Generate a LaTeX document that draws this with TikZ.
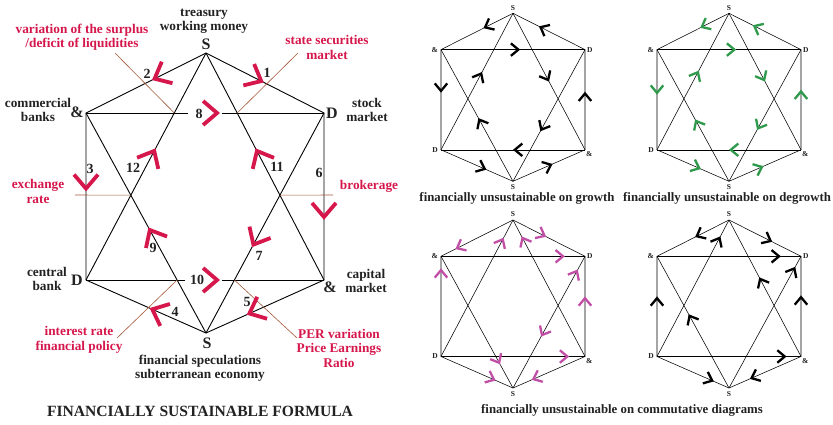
\documentclass[tikz,border=0pt]{standalone}
\usepackage{fontspec}
\setmainfont{Liberation Serif}
\usetikzlibrary{arrows.meta,decorations.markings,calc,positioning}
\definecolor{crimsonred}{HTML}{D6174C}
\definecolor{leaderbrown}{HTML}{A4583A}
\definecolor{growgreen}{HTML}{2F9A4B}
\definecolor{commpink}{HTML}{C24FA6}
\definecolor{inkgray}{HTML}{222222}
\tikzset{
  every node/.append style={align=center},
  edge/.style={draw=black, line width=0.9pt},
  minedge/.style={draw=black, line width=0.55pt},
  leader/.style={draw=leaderbrown, line width=0.6pt},
  bigmark/.style={postaction={decorate}, decoration={markings, mark=at position #1 with {\arrow[crimsonred]{Straight Barb[length=14pt,width=24pt,line width=3.8pt]}}}},
  minmark/.style={postaction={decorate}, decoration={markings, mark=at position #1 with {\arrow{Straight Barb[length=7.5pt,width=12.5pt,line width=2.3pt]}}}},
  lbl/.style={font=\bfseries\fontsize{13.3}{14.5}\selectfont, text=inkgray, inner sep=0pt},
  redlbl/.style={lbl, text=crimsonred},
  num/.style={font=\bfseries\fontsize{14}{15}\selectfont, text=inkgray, inner sep=0pt},
  vtx/.style={font=\bfseries\fontsize{16}{16}\selectfont, text=inkgray, inner sep=0pt},
  minvtx/.style={font=\bfseries\fontsize{7.5}{8}\selectfont, text=inkgray, inner sep=0pt},
  caption/.style={font=\bfseries\fontsize{12.8}{14}\selectfont, text=inkgray, inner sep=0pt},
}
% small hexagon with star: prefix, centre x, top y
\newcommand{\hexstar}[3]{%
  \coordinate (#1T) at (#2,#3);
  \coordinate (#1UL) at ($(#1T)+(-72,36.3)$);
  \coordinate (#1UR) at ($(#1T)+(72,36.3)$);
  \coordinate (#1LL) at ($(#1T)+(-72,136.5)$);
  \coordinate (#1LR) at ($(#1T)+(72,136.5)$);
  \coordinate (#1B) at ($(#1T)+(0,168)$);
  \draw[minedge] (#1T) -- (#1UL) -- (#1LL) -- (#1B) -- (#1LR) -- (#1UR) -- cycle;
  \draw[minedge] (#1UL) -- (#1UR);
  \draw[minedge] (#1LL) -- (#1LR);
  \draw[minedge] (#1T) -- (#1LL);
  \draw[minedge] (#1T) -- (#1LR);
  \draw[minedge] (#1B) -- (#1UL);
  \draw[minedge] (#1B) -- (#1UR);
  \node[minvtx, above=3pt of #1T] (#1sT) {S};
  \node[minvtx, left=3pt of #1UL] (#1sUL) {\&};
  \node[minvtx, right=2pt of #1UR] (#1sUR) {D};
  \node[minvtx, left=3pt of #1LL] (#1sLL) {D};
  \node[minvtx, below right=2pt and 1pt of #1LR] (#1sLR) {\&};
  \node[minvtx, below=3pt of #1B] (#1sB) {S};
}

\begin{document}
\begin{tikzpicture}[x=1pt, y=-1pt, >=Latex]
  \useasboundingbox[fill=white] (0,0) rectangle (833,424);

  % main figure
  \coordinate (T) at (206,53);
  \coordinate (UL) at (86,113);
  \coordinate (UR) at (324,113);
  \coordinate (LL) at (86,280);
  \coordinate (LR) at (324,280);
  \coordinate (B) at (206,333);
  \coordinate (g8a) at (188,113);
  \coordinate (g8b) at (222,113);
  \coordinate (g10a) at (185,280);
  \coordinate (g10b) at (222,280);

  \draw[edge] (T) -- (UL) -- (LL) -- (B) -- (LR) -- (UR) -- cycle;
  \draw[edge] (T) -- (LL);
  \draw[edge] (T) -- (LR);
  \draw[edge] (B) -- (UL);
  \draw[edge] (B) -- (UR);
  \draw[edge] (UL) -- (g8a);
  \draw[edge] (g8b) -- (UR);
  \draw[edge] (LL) -- (g10a);
  \draw[edge] (g10b) -- (LR);

  % leader lines
  \coordinate (xTopL) at (intersection of T--LL and UL--UR);
  \coordinate (xTopR) at (intersection of T--LR and UL--UR);
  \coordinate (xMidL) at (intersection of T--LL and B--UL);
  \coordinate (xMidR) at (intersection of T--LR and B--UR);
  \coordinate (xBotL) at (intersection of B--UL and LL--LR);
  \coordinate (xBotR) at (intersection of B--UR and LL--LR);
  \coordinate (lSurplus) at (115,53);
  \coordinate (lState) at (298,53);
  \coordinate (lExch) at (75,195);
  \coordinate (lBrok) at (333,195);
  \coordinate (lIntr) at (117,338);
  \coordinate (lPer) at (297,338);
  \draw[leader] (lSurplus) -- (xTopL);
  \draw[leader] (lState) -- (xTopR);
  \draw[leader] (lExch) -- (xMidL);
  \draw[leader] (xMidR) -- (lBrok);
  \draw[leader] (lIntr) -- (xBotL);
  \draw[leader] (lPer) -- (xBotR);

  % flow arrows 1..12
  \path[bigmark=0.49] (T) -- (UR);
  \path[bigmark=0.45] (T) -- (UL);
  \path[bigmark=0.47] (UL) -- (LL);
  \path[bigmark=0.47] (B) -- (LL);
  \path[bigmark=0.655] (LR) -- (B);
  \path[bigmark=0.64] (UR) -- (LR);
  \path[bigmark=0.61] (UR) -- (B);
  \path[bigmark=0.563] (UL) -- (UR);
  \path[bigmark=0.48] (B) -- (UL);
  \path[bigmark=0.563] (LL) -- (LR);
  \path[bigmark=0.58] (LR) -- (T);
  \path[bigmark=0.58] (LL) -- (T);

  \foreach \n/\x/\y in {1/267/73, 2/147/74, 3/90/169, 4/175/312, 5/247/302, 6/319/173,
                        7/259/256, 8/199/114, 9/153/248, 10/197/280, 11/277/167, 12/133/168}
    \node[num] (n\n) at (\x,\y) {\n};

  \node[vtx] (sT) at (206,44) {S};
  \node[vtx] (sUL) at (77,112) {\&};
  \node[vtx] (sUR) at (332,113) {D};
  \node[vtx] (sLL) at (77,280) {D};
  \node[vtx] (sLR) at (330,287) {\&};
  \node[vtx] (sB) at (207,343) {S};

  \node[lbl] (treasury) at (204,21) {treasury\\working money};
  \node[lbl] (commbanks) at (38,110) {commercial\\banks};
  \node[lbl] (stockmkt) at (367,110) {stock\\market};
  \node[lbl] (cbank) at (47,279) {central\\bank};
  \node[lbl] (capmkt) at (366,281) {capital\\market};
  \node[lbl] (specul) at (200,368) {financial speculations\\subterranean economy};
  \node[redlbl] (surplus) at (82,37) {variation of the surplus\\/deficit of liquidities};
  \node[redlbl] (stsec) at (327,47.5) {state securities\\market};
  \node[redlbl] (exch) at (38,191.5) {exchange\\rate};
  \node[redlbl] (brok) at (369,186) {brokerage};
  \node[redlbl] (intrate) at (79,340) {interest rate\\financial policy};
  \node[redlbl] (pervar) at (339,348) {PER variation\\Price Earnings\\Ratio};
  \node[caption, font=\bfseries\fontsize{15.6}{17}\selectfont] (title) at (200,411) {FINANCIALLY SUSTAINABLE FORMULA};

  % small figures
  \hexstar{a}{513}{13.3}
  \hexstar{b}{729}{13.3}
  \hexstar{c}{513}{220}
  \hexstar{d}{729}{220}

  \foreach \s/\e/\p in {UR/T/0.64, T/UL/0.41, UL/UR/0.55, UL/LL/0.43, LR/UR/0.58, T/LR/0.5,
                        LL/T/0.57, B/UL/0.48, UR/B/0.62, LR/LL/0.5, LL/B/0.63, B/LR/0.55}
    \path[black, minmark=\p] (a\s) -- (a\e);
  \foreach \s/\e/\p in {UR/T/0.67, T/UL/0.4, UL/UR/0.55, UL/LL/0.45, LR/UR/0.6, T/LR/0.5,
                        LL/T/0.58, B/UL/0.47, UR/B/0.61, LR/LL/0.5, LL/B/0.61, B/LR/0.48}
    \path[growgreen, minmark=\p] (b\s) -- (b\e);
  \foreach \s/\e/\p in {T/UL/0.8, T/UR/0.46, LL/UL/0.88, LL/T/0.87, LR/T/0.88, UL/UR/0.86, B/UR/0.9,
                        LR/UR/0.6, UR/B/0.61, LL/LR/0.89, UL/B/0.82, LL/B/0.76, LR/B/0.74}
    \path[commpink, minmark=\p] (c\s) -- (c\e);
  \foreach \s/\e/\p in {T/UL/0.47, T/UR/0.6, LL/T/0.88, UL/UR/0.86, B/UR/0.92, LR/T/0.58,
                        LL/UL/0.6, LR/UR/0.61, B/UL/0.56, LL/LR/0.9, LL/B/0.79, LR/B/0.71}
    \path[black, minmark=\p] (d\s) -- (d\e);

  \node[caption] (capgrowth) at (517,198) {financially unsustainable on growth};
  \node[caption, anchor=west] (capdegrowth) at (623,198) {financially unsustainable on degrowth};
  \node[caption] (capcomm) at (622,410) {financially unsustainable on commutative diagrams};
\end{tikzpicture}
\end{document}
